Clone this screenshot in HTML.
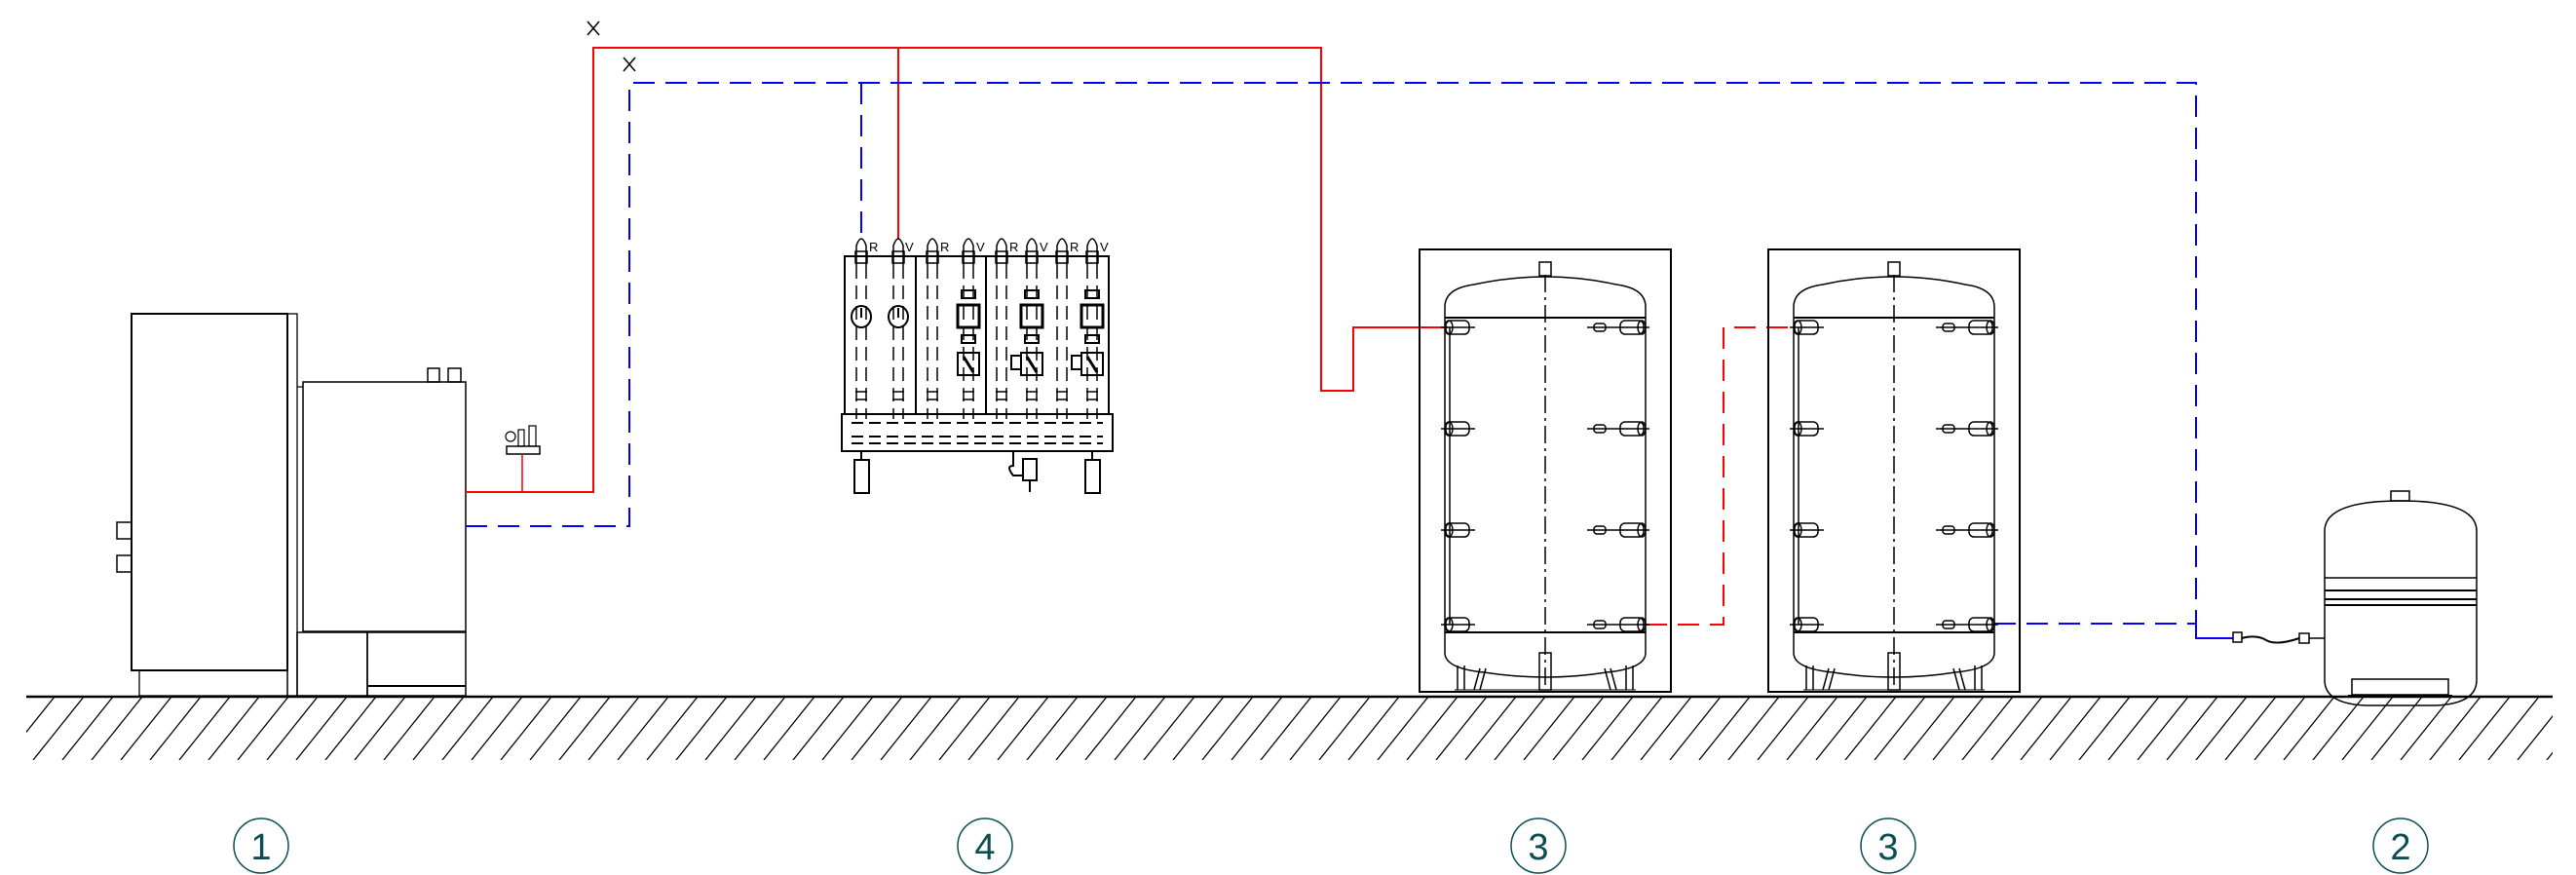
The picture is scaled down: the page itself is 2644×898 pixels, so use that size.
<!DOCTYPE html>
<html><head><meta charset="utf-8"><style>html,body{margin:0;padding:0;background:#fff}svg{display:block}</style></head>
<body>
<svg id="s" width="2644" height="898" viewBox="0 0 2644 898" xmlns="http://www.w3.org/2000/svg" font-family="Liberation Sans, sans-serif">
<defs>
<pattern id="h" x="0" y="715" width="30" height="65" patternUnits="userSpaceOnUse">
<line x1="-26" y1="65" x2="26" y2="0" stroke="#000" stroke-width="1.3"/>
<line x1="4" y1="65" x2="56" y2="0" stroke="#000" stroke-width="1.3"/>
</pattern>
</defs>
<rect x="27" y="715" width="2593" height="65" fill="url(#h)"/>
<line x1="27" y1="715" x2="2620" y2="715" stroke="#000" stroke-width="2.5"/>

<g fill="none" stroke="#000" stroke-width="2">
<!-- boiler -->
<rect x="135" y="322" width="160" height="366"/>
<rect x="295" y="322" width="10" height="392" stroke-width="1.3"/>
<rect x="143" y="688" width="152" height="26" stroke-width="1.3"/>
<rect x="120" y="536" width="15" height="17" stroke-width="1.5"/>
<rect x="120" y="570" width="15" height="17" stroke-width="1.5"/>
<rect x="311" y="392" width="167" height="256" stroke-width="1.5"/>
<line x1="305" y1="397" x2="311" y2="397" stroke-width="1.2"/>
<rect x="305" y="649" width="72" height="65" stroke-width="1.5"/>
<rect x="377" y="649" width="101" height="65" stroke-width="1.5"/>
<line x1="377" y1="704" x2="478" y2="704" stroke-width="2"/>
<rect x="439" y="378" width="12" height="14" stroke-width="1.5"/>
<rect x="460" y="378" width="13" height="14" stroke-width="1.5"/>
<!-- gauge -->
<rect x="520" y="458" width="34" height="8" stroke-width="1.5"/>
<circle cx="524" cy="448" r="5" stroke-width="1.2"/>
<rect x="532" y="441" width="6" height="17" stroke-width="1.2"/>
<rect x="543" y="437" width="7" height="21" stroke-width="1.2"/>
</g>

<!-- pipes -->
<g fill="none" stroke-width="2">
<polyline points="478,505 609,505 609,49 1356,49 1356,401 1389,401 1389,336 1486,336" stroke="#f00"/>
<line x1="536" y1="466" x2="536" y2="505" stroke="#f00" stroke-width="1.5"/>
<line x1="922" y1="49" x2="922" y2="246" stroke="#f00"/>
<polyline points="478,540 646,540 646,85 2254,85 2254,640" stroke="#00f" stroke-dasharray="22,11"/>
<line x1="884" y1="85" x2="884" y2="246" stroke="#00f" stroke-dasharray="22,11"/>
<polyline points="1689,641 1769,641 1769,336 1841,336" stroke="#f00" stroke-dasharray="22,11"/>
<polyline points="2047,640 2254,640" stroke="#00f" stroke-dasharray="22,11"/>
<polyline points="2254,640 2254,655 2292,655" stroke="#00f"/>
</g>
<g stroke="#000" stroke-width="1.5">
<line x1="603" y1="22" x2="615" y2="36"/><line x1="615" y1="22" x2="603" y2="36"/>
<line x1="640" y1="59" x2="652" y2="73"/><line x1="652" y1="59" x2="640" y2="73"/>
</g>

<!-- manifold -->
<g id="man" fill="none" stroke="#000" stroke-width="2">
<rect x="867" y="263" width="271" height="162"/>
<line x1="940" y1="263" x2="940" y2="425"/>
<line x1="1012" y1="263" x2="1012" y2="425"/>
<rect x="864" y="425" width="278" height="38"/>
<line x1="874" y1="434" x2="1132" y2="434" stroke-dasharray="12,6"/>
<line x1="874" y1="448" x2="1132" y2="448" stroke-dasharray="12,6"/>
<line x1="874" y1="455" x2="1132" y2="455" stroke-dasharray="12,6"/>
<rect x="877" y="472" width="15" height="34"/>
<rect x="1114" y="472" width="15" height="34"/>
<line x1="884" y1="463" x2="884" y2="472"/><line x1="1121" y1="463" x2="1121" y2="472"/>
<rect x="1050" y="471" width="14" height="22"/>
<path d="M1040 463 v15 q-8 0 0 10 h10"/>
<line x1="1057" y1="493" x2="1057" y2="505"/>
</g>
<g font-size="13" fill="#000">
<text x="892" y="258">R</text><text x="929" y="258">V</text>
<text x="965" y="258">R</text><text x="1002" y="258">V</text>
<text x="1036" y="258">R</text><text x="1067" y="258">V</text>
<text x="1098" y="258">R</text><text x="1129" y="258">V</text>
</g>

<!-- expansion tank -->
<g fill="none" stroke="#000" stroke-width="1.5">
<rect x="2454" y="504" width="19" height="10"/>
<path d="M2386 698 V545 Q2386 514 2464 514 Q2542 514 2542 545 V698 Q2542 722 2500 724 H2428 Q2386 722 2386 698 Z"/>
<line x1="2386" y1="593" x2="2542" y2="593"/>
<line x1="2386" y1="606" x2="2542" y2="606" stroke-width="2"/>
<line x1="2386" y1="615" x2="2542" y2="615" stroke-width="2"/>
<line x1="2386" y1="621" x2="2542" y2="621" stroke-width="2"/>
<rect x="2414" y="697" width="99" height="16"/>
<line x1="2410" y1="714" x2="2517" y2="714" stroke-width="2"/>
<rect x="2292" y="649" width="9" height="10"/>
<rect x="2360" y="650" width="10" height="10"/>
<path d="M2301 655 q15 -4 25 2 t34 -2" stroke-width="2"/>
<line x1="2370" y1="655" x2="2386" y2="655"/>
</g>

<g id="tanks"></g>
<g id="labels" fill="none" stroke="#0b4f52" stroke-width="1.5">
<circle cx="268" cy="868" r="28"/><circle cx="1011" cy="868" r="28"/>
<circle cx="1579" cy="868" r="28"/><circle cx="1938" cy="868" r="28"/><circle cx="2464" cy="868" r="28"/>
</g>
<g fill="#0b4f52" font-size="38" text-anchor="middle">
<text x="268" y="882">1</text><text x="1011" y="882">4</text>
<text x="1579" y="882">3</text><text x="1938" y="882">3</text><text x="2464" y="882">2</text>
</g>
</svg>
<script>
var NS="http://www.w3.org/2000/svg";
function el(p,t,a){var e=document.createElementNS(NS,t);for(var k in a)e.setAttribute(k,a[k]);p.appendChild(e);return e;}
var T=document.getElementById('tanks');
[[1457,1483],[1815,1841]].forEach(function(v){
 var F=v[0],L=v[1],R=L+206,cx=L+103;
 var g=el(T,'g',{fill:'none',stroke:'#000','stroke-width':1.5});
 el(g,'rect',{x:F,y:256,width:258,height:454,'stroke-width':2});
 el(g,'path',{d:'M'+L+' 326 V315 Q'+L+' 296 '+(L+30)+' 292 Q'+cx+' 276 '+(R-30)+' 292 Q'+R+' 296 '+R+' 315 V649 V670 Q'+R+' 686 '+(R-40)+' 690 Q'+cx+' 700 '+(L+40)+' 690 Q'+L+' 686 '+L+' 670 Z'});
 el(g,'line',{x1:L,y1:326,x2:R,y2:326,'stroke-width':2});
 el(g,'line',{x1:L,y1:649,x2:R,y2:649,'stroke-width':2});
 el(g,'line',{x1:L+5,y1:336,x2:L+5,y2:641});
 el(g,'rect',{x:cx-6,y:269,width:12,height:14});
 el(g,'line',{x1:cx,y1:282,x2:cx,y2:705,'stroke-dasharray':'18,5,3,5'});
 [336,440,544,641].forEach(function(y){
  el(g,'rect',{x:L+1,y:y-7,width:24,height:14,rx:5});
  el(g,'ellipse',{cx:L+4,cy:y,rx:4,ry:7});
  el(g,'line',{x1:L-4,y1:y,x2:L+31,y2:y});
  el(g,'rect',{x:R-26,y:y-7,width:24,height:14,rx:5});
  el(g,'ellipse',{cx:R-4,cy:y,rx:4,ry:7});
  el(g,'rect',{x:R-53,y:y-4,width:12,height:8,rx:3});
  el(g,'line',{x1:R-60,y1:y,x2:R+4,y2:y});
 });
 [L+13,L+20,R-20,R-13].forEach(function(x){el(g,'line',{x1:x,y1:683,x2:x,y2:708});});
 el(g,'rect',{x:cx-6,y:670,width:12,height:38});
 el(g,'path',{d:'M'+(L+30)+' 708 l6 -22 M'+(L+36)+' 708 l6 -22 M'+(R-30)+' 708 l-6 -22 M'+(R-36)+' 708 l-6 -22'});
 el(g,'line',{x1:L+10,y1:708,x2:R-10,y2:708,'stroke-width':1});
});
// manifold columns
var M=document.getElementById('man');
[884,922,957,994,1028,1059,1090,1121].forEach(function(x,i){
 el(M,'line',{x1:x-5,y1:272,x2:x-5,y2:430,'stroke-dasharray':'14,7','stroke-width':1.5});
 el(M,'line',{x1:x+5,y1:272,x2:x+5,y2:430,'stroke-dasharray':'14,7','stroke-width':1.5});
 el(M,'path',{d:'M'+(x-5)+' 272 V252 Q'+x+' 238 '+(x+5)+' 252 V272','stroke-width':1.5});
 el(M,'rect',{x:x-6,y:258,width:12,height:12,'stroke-width':1.5});
 el(M,'line',{x1:x-6,y1:402,x2:x+6,y2:402,'stroke-width':1.5});
 el(M,'line',{x1:x-6,y1:410,x2:x+6,y2:410,'stroke-width':1.5});
});
[884,922].forEach(function(x){el(M,'ellipse',{cx:x,cy:325,rx:10,ry:11});el(M,'line',{x1:x,y1:316,x2:x,y2:326});});
[994,1059,1121].forEach(function(x){
 el(M,'rect',{x:x-11,y:313,width:22,height:23,'stroke-width':3});
 el(M,'rect',{x:x-7,y:298,width:14,height:8});
 el(M,'rect',{x:x-7,y:344,width:14,height:8});
 el(M,'rect',{x:x-11,y:362,width:22,height:23});
 el(M,'line',{x1:x-5,y1:366,x2:x+5,y2:382,'stroke-width':3});
});
[1059,1121].forEach(function(x){el(M,'rect',{x:x-21,y:365,width:10,height:14});});
</script>
</body></html>
